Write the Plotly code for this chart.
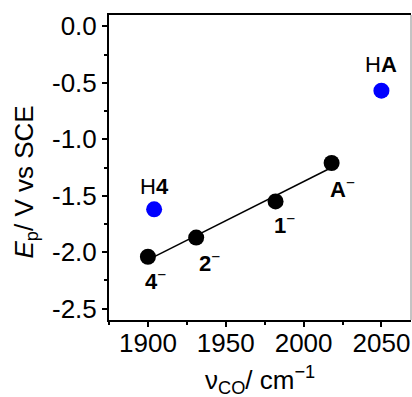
import numpy as np
import plotly.graph_objects as go

# Anions (black)
anion_labels = ["<b>4</b><sup>−</sup>", "<b>2</b><sup>−</sup>", "<b>1</b><sup>−</sup>", "<b>A</b><sup>−</sup>"]
anion_nu = [1900, 1931, 1982, 2018]
anion_E = [-2.04, -1.87, -1.55, -1.21]

# Neutral acids (blue)
acid_labels = ["H<b>4</b>", "H<b>A</b>"]
acid_nu = [1904, 2050]
acid_E = [-1.62, -0.57]

x_ticks = [1900, 1950, 2000, 2050]
y_ticks = [0.0, -0.5, -1.0, -1.5, -2.0, -2.5]
y_ticktext = ["0.0", "-0.5", "-1.0", "-1.5", "-2.0", "-2.5"]

FONT = "Liberation Sans, Arial, sans-serif"

# linear fit through the anion points
slope, intercept = np.polyfit(anion_nu, anion_E, 1)
fit_x = [min(anion_nu), max(anion_nu)]
fit_y = [slope * v + intercept for v in fit_x]

fig = go.Figure()
fig.add_trace(go.Scatter(x=fit_x, y=fit_y, mode="lines",
                         line=dict(color="black", width=1.5), hoverinfo="skip"))
fig.add_trace(go.Scatter(x=anion_nu, y=anion_E, mode="markers",
                         marker=dict(color="black", size=16, line=dict(width=0))))
fig.add_trace(go.Scatter(x=acid_nu, y=acid_E, mode="markers",
                         marker=dict(color="#0000ff", size=16, line=dict(width=0))))

anion_shifts = [(8, -23), (13, -24), (9, -23), (11, -25)]
for lab, xv, yv, (dx, dy) in zip(anion_labels, anion_nu, anion_E, anion_shifts):
    fig.add_annotation(x=xv, y=yv, text=lab, showarrow=False, xshift=dx, yshift=dy,
                       font=dict(family=FONT, size=22, color="black"))
acid_shifts = [(0, 23), (0, 26)]
for lab, xv, yv, (dx, dy) in zip(acid_labels, acid_nu, acid_E, acid_shifts):
    fig.add_annotation(x=xv, y=yv, text=lab, showarrow=False, xshift=dx, yshift=dy,
                       font=dict(family=FONT, size=22, color="black"))

# axis titles as annotations
fig.add_annotation(xref="paper", yref="paper", x=0.5, y=0, yshift=-60,
                   text="ν<sub>CO</sub>/ cm<sup>−1</sup>", showarrow=False,
                   xanchor="center", yanchor="middle",
                   font=dict(family=FONT, size=26, color="black"))
fig.add_annotation(xref="paper", yref="paper", x=0, y=0.5, xshift=-84, yshift=-15,
                   text="<i>E</i><sub>p</sub>/ V vs SCE", showarrow=False, textangle=-90,
                   xanchor="center", yanchor="middle",
                   font=dict(family=FONT, size=26, color="black"))

# right border (thin gray)
fig.add_shape(type="line", xref="paper", yref="paper", x0=1, x1=1, y0=0, y1=1,
              line=dict(color="#888888", width=1))

fig.update_layout(
    width=412, height=397,
    margin=dict(l=109, r=1, t=15, b=77),
    plot_bgcolor="white", paper_bgcolor="white",
    showlegend=False,
    font=dict(family=FONT, color="black"),
    xaxis=dict(range=[1875, 2069], tickvals=x_ticks, ticks="outside", ticklen=5,
               tickwidth=1.5, tickcolor="black", showline=True, linecolor="black",
               linewidth=2, mirror=True, showgrid=False, zeroline=False,
               ticklabelstandoff=-6,
               tickfont=dict(family=FONT, size=26, color="black"),
               minor=dict(dtick=25, tick0=1875, ticks="outside", ticklen=3, tickwidth=1.5,
                          tickcolor="black", showgrid=False)),
    yaxis=dict(range=[-2.6, 0.1], tickvals=y_ticks, ticktext=y_ticktext, ticks="outside",
               ticklen=5, tickwidth=1.5, tickcolor="black", showline=True,
               linecolor="black", linewidth=2, showgrid=False, zeroline=False,
               tickfont=dict(family=FONT, size=26, color="black"),
               minor=dict(dtick=0.25, tick0=0, ticks="outside", ticklen=3, tickwidth=1.5,
                          tickcolor="black", showgrid=False)),
)

fig.write_html("out.html", config={"displayModeBar": False})
with open("out.html", "r", encoding="utf-8") as f:
    html = f.read()
html = html.replace("<head>", "<head><style>html,body{margin:0;padding:0;overflow:hidden;}</style>", 1)
with open("out.html", "w", encoding="utf-8") as f:
    f.write(html)
